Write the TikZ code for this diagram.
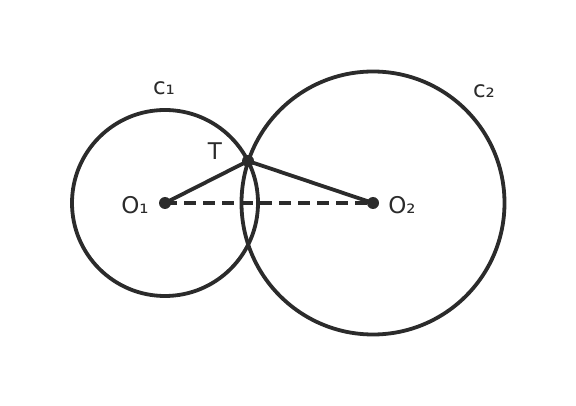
\documentclass[tikz,border=0pt]{standalone}
\usepackage{fontspec}
\setmainfont{DejaVu Sans}
\begin{document}
\begin{tikzpicture}[x=1pt,y=-1pt]
				% Einstellungen für Linien, Punkte und Beschriftungen
				\tikzset{kreis/.style={
						draw=black!83, % Dunkelgraue Linie
						line width=3.8pt % Kräftige Linie
				}}
				\tikzset{punkt/.style={
						circle, % Runder Punkt
						fill=black!83, % Gefüllt
						inner sep=0pt, % Kein Innenabstand
						minimum size=12pt % Punktgröße
				}}
				\tikzset{beschriftung/.style={
						text=black!83, % Textfarbe
						font=\fontsize{23}{26}\selectfont, % Schriftgröße
						inner sep=0pt % Kein Innenabstand
				}}
				
				% Rahmen festlegen
				\useasboundingbox (0,0) rectangle (576,406);
				
				% Mittelpunkte und Berührpunkt
				\node[punkt] (O1) at (165,203) {};
				\node[punkt] (O2) at (373,203) {};
				\node[punkt] (T) at (248,161) {};
				
				% Kreise zeichnen
				\draw[kreis] (O1.center) circle[radius=93pt];
				\draw[kreis] (O2.center) circle[radius=131.5pt];
				
				% Verbindungslinien
				\draw[kreis] (O1.center) -- (T.center) -- (O2.center);
				\draw[kreis, dash pattern=on 12pt off 7pt] (O1.center) -- (O2.center);
				
				% Beschriftungen
				\node[beschriftung] (c1) at (164,88) {c₁};
				\node[beschriftung] (c2) at (484,91) {c₂};
				\node[beschriftung] (tl) at (215,151) {T};
				\node[beschriftung] (o1l) at (135,205) {O₁};
				\node[beschriftung] (o2l) at (402,205) {O₂};
			\end{tikzpicture}
\end{document}
